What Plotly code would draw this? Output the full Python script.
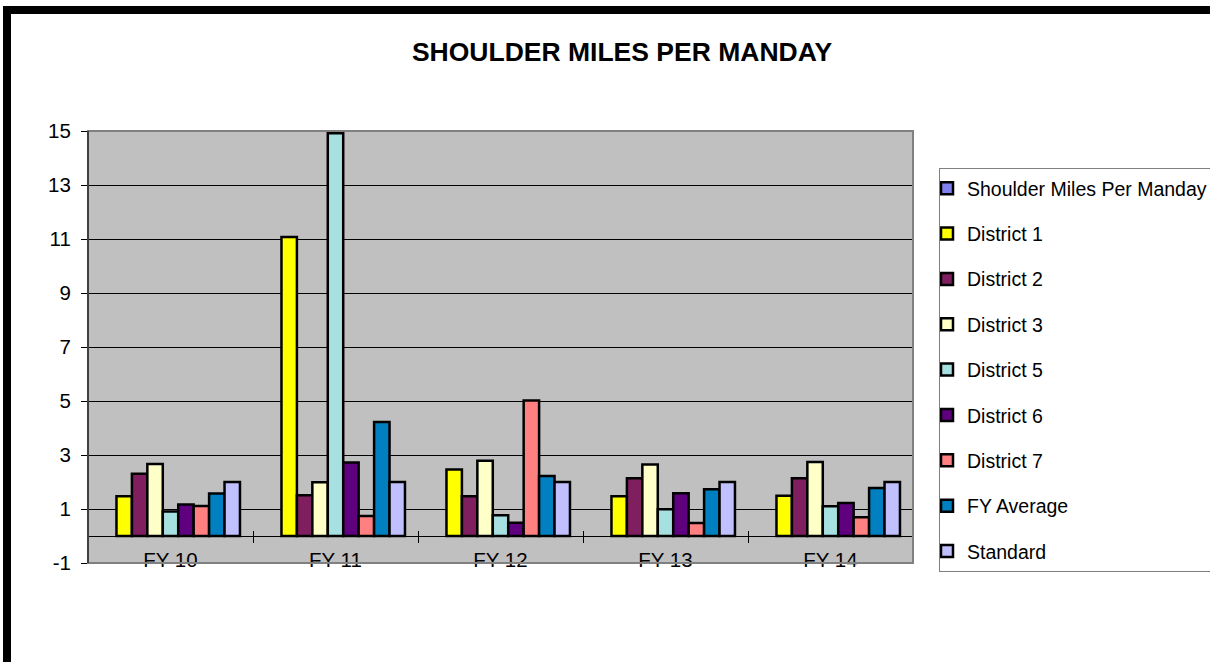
import plotly.graph_objects as go

categories = ["FY 10", "FY 11", "FY 12", "FY 13", "FY 14"]

series_names = ["Shoulder Miles Per Manday", "District 1", "District 2", "District 3",
                "District 5", "District 6", "District 7", "FY Average", "Standard"]

shoulder = [None, None, None, None, None]
district1 = [1.47, 11.07, 2.46, 1.47, 1.49]
district2 = [2.31, 1.51, 1.47, 2.14, 2.14]
district3 = [2.67, 1.99, 2.79, 2.65, 2.74]
district5 = [0.91, 14.92, 0.77, 0.99, 1.10]
district6 = [1.17, 2.72, 0.49, 1.58, 1.22]
district7 = [1.11, 0.74, 5.02, 0.48, 0.69]
fy_average = [1.57, 4.22, 2.22, 1.73, 1.78]
standard = [2.0, 2.0, 2.0, 2.0, 2.0]

y_ticks = [-1, 1, 3, 5, 7, 9, 11, 13, 15]
y_tick_labels = ["-1", "1", "3", "5", "7", "9", "11", "13", "15"]

series_values = [shoulder, district1, district2, district3, district5,
                 district6, district7, fy_average, standard]
colors = ["#8080F0", "#FFFF00", "#7F1F5F", "#FFFFC8", "#A6E0E0",
          "#5F007F", "#FF8080", "#0080C0", "#C0C0FF"]

FONT = "Liberation Sans, Arial, sans-serif"

fig = go.Figure()
for name, vals, col in zip(series_names, series_values, colors):
    fig.add_trace(go.Bar(
        x=categories, y=vals, name=name, legendgroup=name,
        marker=dict(color=col, line=dict(color="#000000", width=2.5)),
    ))

W, H = 1210, 662
L, R, T, B = 88, 913, 131, 563

def px_x(p):
    return (p - L) / (R - L)

def px_y(p):
    return (B - p) / (B - T)

fig.update_layout(
    width=W, height=H,
    margin=dict(l=L, r=W - R, t=T, b=H - B, autoexpand=False),
    paper_bgcolor="white",
    plot_bgcolor="#C0C0C0",
    barmode="group",
    bargap=0.158,
    bargroupgap=0,
    font=dict(family=FONT, size=20, color="#000000"),
    title=dict(text="<b>SHOULDER MILES PER MANDAY</b>",
               font=dict(family=FONT, size=26.5, color="#000000"),
               x=622 / W, xanchor="center", xref="container",
               y=1 - 52 / H, yanchor="middle", yref="container"),
    showlegend=True,
    legend=dict(
        x=px_x(939), xanchor="left", y=px_y(168), yanchor="top",
        bgcolor="white", bordercolor="#808080", borderwidth=1,
        font=dict(family=FONT, size=19.5, color="#000000"),
        tracegroupgap=17, traceorder="grouped", itemwidth=30,
        indentation=-13,
    ),
    xaxis=dict(
        anchor="free", position=px_y(530),
        showgrid=False, showline=False, zeroline=False,
        ticks="outside", ticklen=12, tickcolor="#000000", tickwidth=1,
        tickson="boundaries",
        tickfont=dict(family=FONT, size=20.5, color="#000000"),
        ticklabelstandoff=15,
    ),
    yaxis=dict(
        range=[-1, 15], tickvals=y_ticks, ticktext=y_tick_labels,
        showgrid=True, gridcolor="#000000", gridwidth=1,
        zeroline=True, zerolinecolor="#000000", zerolinewidth=1,
        showline=False,
        ticks="outside", ticklen=6, tickcolor="#000000",
        tickfont=dict(family=FONT, size=20.5, color="#000000"),
        ticklabelstandoff=6,
    ),
    shapes=[
        # plot area border
        dict(type="rect", xref="paper", yref="paper", x0=0, x1=1, y0=0, y1=1,
             line=dict(color="#808080", width=2), layer="above"),
        # y axis line
        dict(type="line", xref="paper", yref="paper", x0=0, x1=0, y0=0, y1=1,
             line=dict(color="#000000", width=1), layer="above"),
        # outer frame (top and left)
        dict(type="line", xref="paper", yref="paper",
             x0=px_x(3), x1=px_x(1300), y0=px_y(10), y1=px_y(10),
             line=dict(color="#000000", width=8), layer="above"),
        dict(type="line", xref="paper", yref="paper",
             x0=px_x(7), x1=px_x(7), y0=px_y(6), y1=px_y(720),
             line=dict(color="#000000", width=8), layer="above"),
    ],
)

fig.write_html(
    "out.html",
    config={"displayModeBar": False},
    post_script="document.body.style.margin='0';document.body.style.overflow='hidden';",
)
